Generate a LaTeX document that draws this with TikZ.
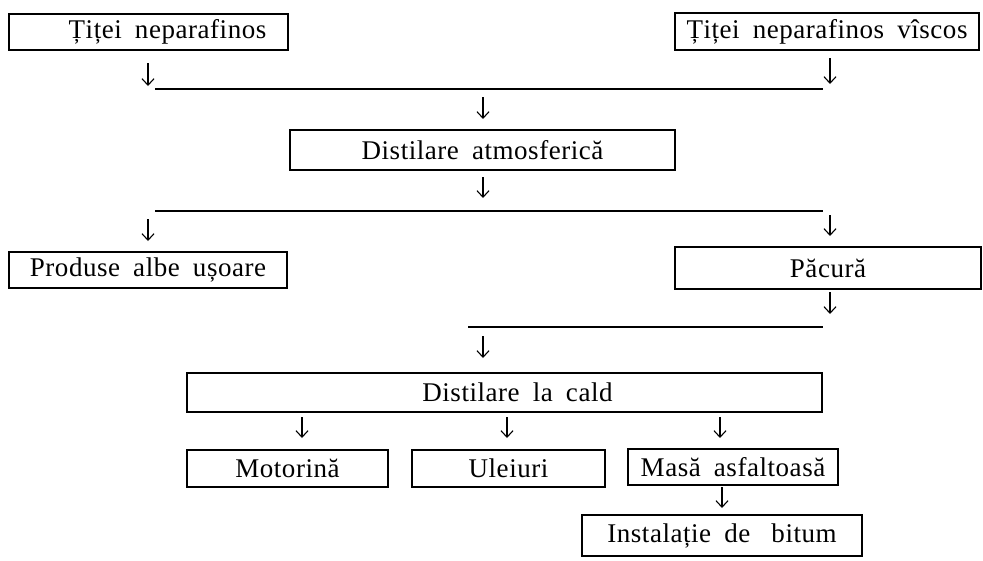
\documentclass[tikz,border=0pt]{standalone}
\usepackage{fontspec}
\setmainfont{Liberation Serif}[LetterSpace=2,WordSpace=1.8]
\usetikzlibrary{arrows.meta}
\tikzset{
  box/.style={draw, line width=1.2pt, inner sep=0pt, font=\fontsize{27}{31}\selectfont},
  down/.style={-{Straight Barb[length=6.5pt,width=12pt,line width=1.1pt]}, line width=1.1pt},
  bar/.style={line width=1.2pt}
}
\begin{document}
\begin{tikzpicture}[x=1pt,y=-1pt]
\useasboundingbox[fill=white] (0,0) rectangle (983,560);
% boxes
\node[box, minimum width=279pt, minimum height=36pt] (t1) at (148.5,32) {\hspace*{38pt}Țiței neparafinos};
\node[box, minimum width=304pt, minimum height=37pt] (t2) at (827,31.5) {Țiței neparafinos vîscos};
\node[box, minimum width=385pt, minimum height=40pt] (da) at (482.5,150) {Distilare atmosferică};
\node[box, minimum width=278pt, minimum height=36pt] (pa) at (148,270) {Produse albe ușoare};
\node[box, minimum width=306pt, minimum height=42pt] (pc) at (828,268) {Păcură};
\node[box, minimum width=635pt, minimum height=39pt] (dc) at (504.5,392.5) {\hspace*{26pt}Distilare la cald};
\node[box, minimum width=201pt, minimum height=37pt] (mo) at (287.5,468.5) {Motorină};
\node[box, minimum width=193pt, minimum height=37pt] (ul) at (508.5,468.5) {Uleiuri};
\node[box, minimum width=210pt, minimum height=36pt] (ma) at (733,467) {Masă asfaltoasă};
\node[box, minimum width=280pt, minimum height=41pt] (in) at (722,535.5) {Instalație de\hspace{8pt} bitum};
% collector lines
\coordinate (l1a) at (155,89); \coordinate (l1b) at (823,89);
\coordinate (l2a) at (155,211); \coordinate (l2b) at (823,211);
\coordinate (l3a) at (468,327); \coordinate (l3b) at (823,327);
\draw[bar] (l1a) -- (l1b);
\draw[bar] (l2a) -- (l2b);
\draw[bar] (l3a) -- (l3b);
% arrows
\coordinate (a1s) at (148,63);  \coordinate (a1e) at (148,86);
\coordinate (a2s) at (830,58);  \coordinate (a2e) at (830,84);
\coordinate (a3s) at (483,97);  \coordinate (a3e) at (483,119);
\coordinate (a4s) at (483,177); \coordinate (a4e) at (483,198);
\coordinate (a5s) at (148,219); \coordinate (a5e) at (148,241);
\coordinate (a6s) at (830,215); \coordinate (a6e) at (830,236);
\coordinate (a7s) at (830,292); \coordinate (a7e) at (830,314);
\coordinate (a8s) at (483,336); \coordinate (a8e) at (483,358);
\coordinate (a9s) at (302,417); \coordinate (a9e) at (302,438);
\coordinate (a10s) at (507,417); \coordinate (a10e) at (507,438);
\coordinate (a11s) at (720,417); \coordinate (a11e) at (720,438);
\coordinate (a12s) at (722,487); \coordinate (a12e) at (722,508);
\foreach \i in {1,...,12} {\draw[down] (a\i s) -- (a\i e);}
\end{tikzpicture}
\end{document}
